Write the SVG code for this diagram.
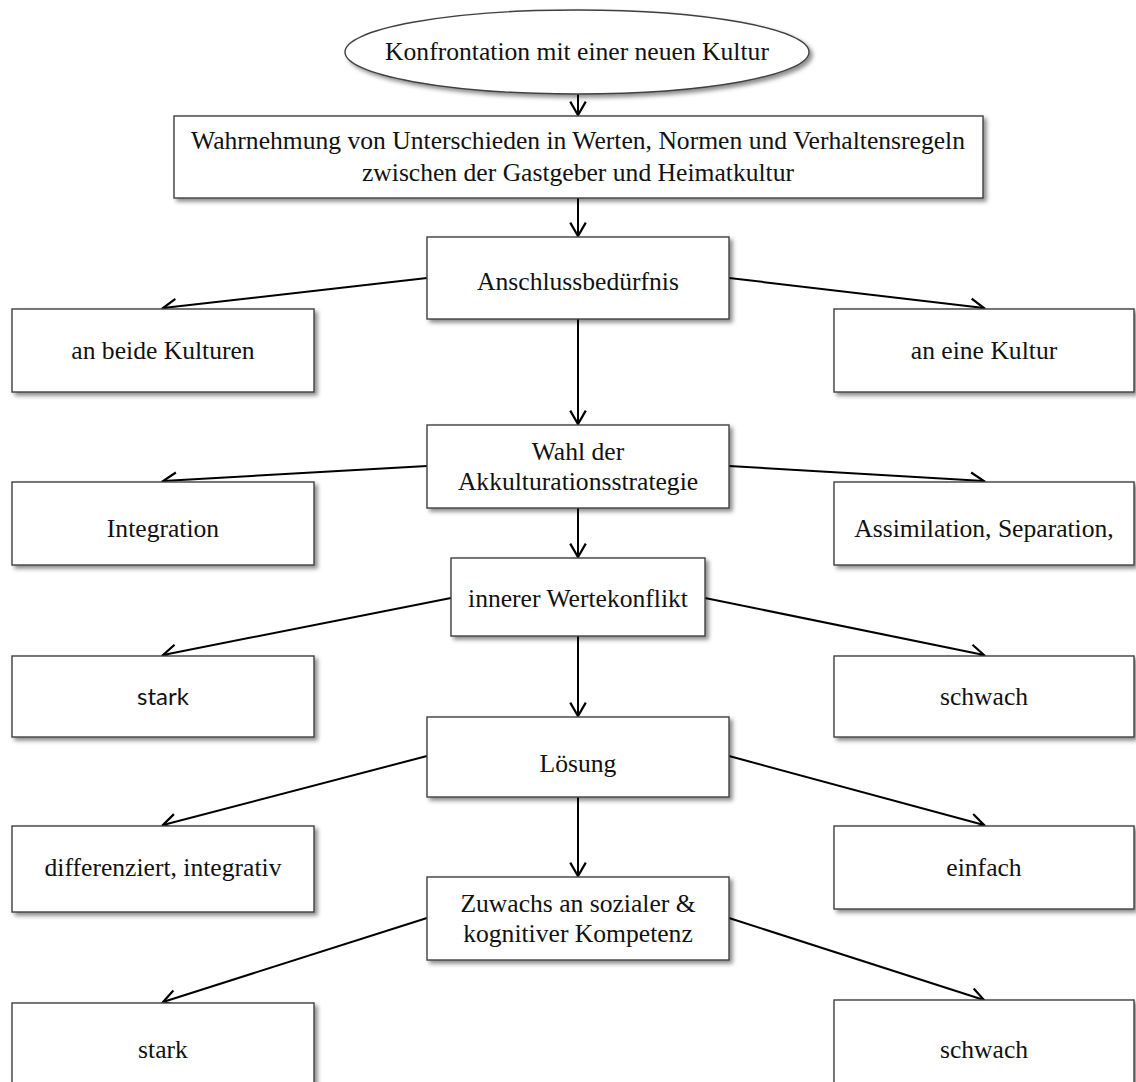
<svg xmlns="http://www.w3.org/2000/svg" width="1136" height="1082" viewBox="0 0 1136 1082">
<defs>
<filter id="sh" x="-10%" y="-10%" width="125%" height="140%">
<feDropShadow dx="3" dy="3" stdDeviation="2.2" flood-color="#000" flood-opacity="0.45"/>
</filter>
<marker id="ah" markerUnits="userSpaceOnUse" markerWidth="20" markerHeight="20" viewBox="-14 -9 16 18" refX="0" refY="0" orient="auto">
<path d="M-12,-7 L0,0 L-12,7" fill="none" stroke="#000" stroke-width="2"/>
</marker>
</defs>
<style>
.n{fill:#fff;stroke:#404040;stroke-width:1.4;filter:url(#sh)}
.t{font-family:"Liberation Serif","Times New Roman",serif;font-size:25.6px;fill:#111;text-anchor:middle}
.s{font-family:Lato,"Open Sans",sans-serif;font-size:24px;fill:#111;text-anchor:middle}
.c{stroke:#000;stroke-width:2;fill:none;marker-end:url(#ah)}
</style>
<rect width="1136" height="1082" fill="#fff"/>
<g id="connectors">
<line class="c" x1="578" y1="94" x2="578" y2="115"/>
<line class="c" x1="578" y1="198" x2="578" y2="236"/>
<line class="c" x1="427" y1="278" x2="163" y2="308"/>
<line class="c" x1="729" y1="278" x2="984" y2="308"/>
<line class="c" x1="578" y1="319" x2="578" y2="424"/>
<line class="c" x1="427" y1="466" x2="163" y2="481"/>
<line class="c" x1="729" y1="466" x2="984" y2="481"/>
<line class="c" x1="578" y1="508" x2="578" y2="557"/>
<line class="c" x1="451" y1="598" x2="163" y2="655"/>
<line class="c" x1="705" y1="598" x2="984" y2="655"/>
<line class="c" x1="578" y1="636" x2="578" y2="716"/>
<line class="c" x1="427" y1="756" x2="163" y2="825"/>
<line class="c" x1="729" y1="756" x2="984" y2="825"/>
<line class="c" x1="578" y1="797" x2="578" y2="876"/>
<line class="c" x1="427" y1="918" x2="163" y2="1002"/>
<line class="c" x1="729" y1="918" x2="984" y2="1000"/>
</g>
<g id="n0"><ellipse class="n" cx="577" cy="52" rx="232" ry="42"/><text class="t" x="577" y="60">Konfrontation mit einer neuen Kultur</text></g>
<g id="n1"><rect class="n" x="174" y="116" width="809" height="82"/><text class="t" x="578" y="149">Wahrnehmung von Unterschieden in Werten, Normen und Verhaltensregeln</text><text class="t" x="578" y="181">zwischen der Gastgeber und Heimatkultur</text></g>
<g id="n2"><rect class="n" x="427" y="237" width="302" height="82"/><text class="t" x="578" y="290">Anschlussbedürfnis</text></g>
<g id="n2l"><rect class="n" x="12" y="309" width="302" height="83"/><text class="t" x="163" y="359">an beide Kulturen</text></g>
<g id="n2r"><rect class="n" x="834" y="309" width="300" height="83"/><text class="t" x="984" y="359">an eine Kultur</text></g>
<g id="n3"><rect class="n" x="427" y="425" width="302" height="83"/><text class="t" x="578" y="460">Wahl der</text><text class="t" x="578" y="490">Akkulturationsstrategie</text></g>
<g id="n3l"><rect class="n" x="12" y="482" width="302" height="83"/><text class="t" x="163" y="537">Integration</text></g>
<g id="n3r"><rect class="n" x="834" y="482" width="300" height="83"/><text class="t" x="984" y="537">Assimilation, Separation,</text></g>
<g id="n4"><rect class="n" x="451" y="558" width="254" height="78"/><text class="t" x="578" y="607">innerer Wertekonflikt</text></g>
<g id="n4l"><rect class="n" x="12" y="656" width="302" height="81"/><text class="s" x="163" y="705">stark</text></g>
<g id="n4r"><rect class="n" x="834" y="656" width="300" height="81"/><text class="t" x="984" y="705">schwach</text></g>
<g id="n5"><rect class="n" x="427" y="717" width="302" height="80"/><text class="t" x="578" y="772">Lösung</text></g>
<g id="n5l"><rect class="n" x="12" y="826" width="302" height="86"/><text class="t" x="163" y="876">differenziert, integrativ</text></g>
<g id="n5r"><rect class="n" x="834" y="826" width="300" height="83"/><text class="t" x="984" y="876">einfach</text></g>
<g id="n6"><rect class="n" x="427" y="877" width="302" height="83"/><text class="t" x="578" y="912">Zuwachs an sozialer &amp;</text><text class="t" x="578" y="942">kognitiver Kompetenz</text></g>
<g id="n6l"><rect class="n" x="12" y="1003" width="302" height="100"/><text class="t" x="163" y="1058">stark</text></g>
<g id="n6r"><rect class="n" x="834" y="1000" width="300" height="100"/><text class="t" x="984" y="1058">schwach</text></g>
</svg>
